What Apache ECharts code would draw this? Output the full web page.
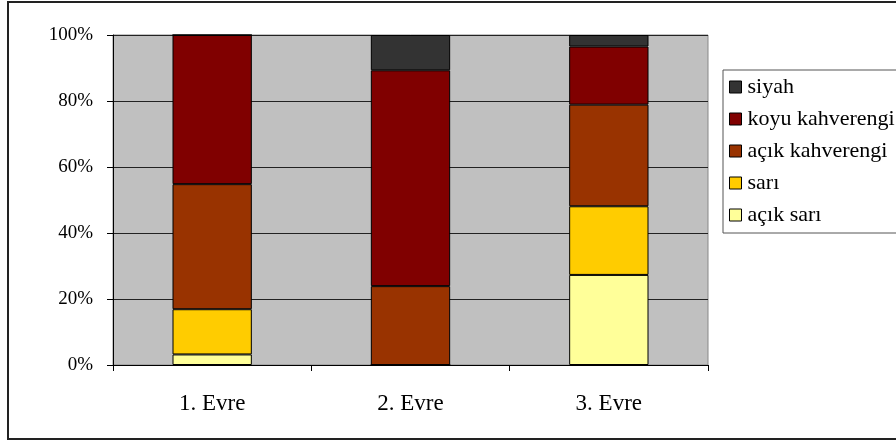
<!DOCTYPE html>
<html>
<head>
<meta charset="utf-8">
<script src="https://cdn.jsdelivr.net/npm/echarts@6/dist/echarts.min.js"></script>
<style>
  html, body { margin: 0; padding: 0; background: #fff; }
  #chart { width: 896px; height: 444px; }
</style>
</head>
<body>
<div id="chart"></div>
<script>
// Stage categories along the x axis
const categories = ['1. Evre', '2. Evre', '3. Evre'];

// Share (%) of each colour class per stage, bottom of the stack first
const acikSari = [3.2, 0, 27.3];
const sari = [13.7, 0, 20.8];
const acikKahverengi = [37.9, 23.9, 30.8];
const koyuKahverengi = [45.2, 65.4, 17.6];
const siyah = [0, 10.7, 3.5];

const yTicks = [0, 20, 40, 60, 80, 100];

const FONT = '"Liberation Serif", "Times New Roman", serif';

const seriesDefs = [
  { name: 'açık sarı', data: acikSari, color: '#FFFF99' },
  { name: 'sarı', data: sari, color: '#FFCC00' },
  { name: 'açık kahverengi', data: acikKahverengi, color: '#993300' },
  { name: 'koyu kahverengi', data: koyuKahverengi, color: '#800000' },
  { name: 'siyah', data: siyah, color: '#333333' }
];

const chart = echarts.init(document.getElementById('chart'), null, { renderer: 'canvas' });

chart.setOption({
  animation: false,
  textStyle: { fontFamily: FONT },
  graphic: [
    {
      type: 'rect',
      shape: { x: 8, y: 2, width: 900, height: 437 },
      style: { fill: 'none', stroke: '#222', lineWidth: 2 },
      z: 100
    }
  ],
  grid: {
    left: 113, top: 35, right: 188, bottom: 79,
    show: true,
    backgroundColor: '#C0C0C0',
    borderColor: '#888',
    borderWidth: 1
  },
  legend: {
    orient: 'vertical',
    left: 723,
    top: 70,
    padding: [6, 80, 7, 6],
    backgroundColor: '#fff',
    borderColor: '#555',
    borderWidth: 1,
    itemWidth: 12,
    itemHeight: 12,
    itemGap: 10,
    icon: 'rect',
    itemStyle: { borderColor: '#000', borderWidth: 1 },
    textStyle: { fontFamily: FONT, fontSize: 22, lineHeight: 22, color: '#000', padding: [0, 0, 0, 1] },
    data: ['siyah', 'koyu kahverengi', 'açık kahverengi', 'sarı', 'açık sarı']
  },
  xAxis: {
    type: 'category',
    data: categories,
    axisLine: { lineStyle: { color: '#000', width: 1 } },
    axisTick: { show: true, length: 6, lineStyle: { color: '#000' } },
    axisLabel: { fontFamily: FONT, fontSize: 23, color: '#000', margin: 27 }
  },
  yAxis: {
    type: 'value',
    min: yTicks[0],
    max: yTicks[yTicks.length - 1],
    interval: yTicks[1] - yTicks[0],
    axisLine: { show: true, lineStyle: { color: '#000', width: 1 } },
    axisTick: { show: true, length: 6, lineStyle: { color: '#000' } },
    axisLabel: { fontFamily: FONT, fontSize: 19, color: '#000', margin: 20, formatter: '{value}%' },
    splitLine: { show: true, lineStyle: { color: '#222', width: 1 } }
  },
  series: seriesDefs.map(s => ({
    name: s.name,
    type: 'bar',
    stack: 'total',
    barWidth: '40%',
    data: s.data,
    itemStyle: { color: s.color, borderColor: '#000', borderWidth: 1 }
  }))
});
</script>
</body>
</html>
